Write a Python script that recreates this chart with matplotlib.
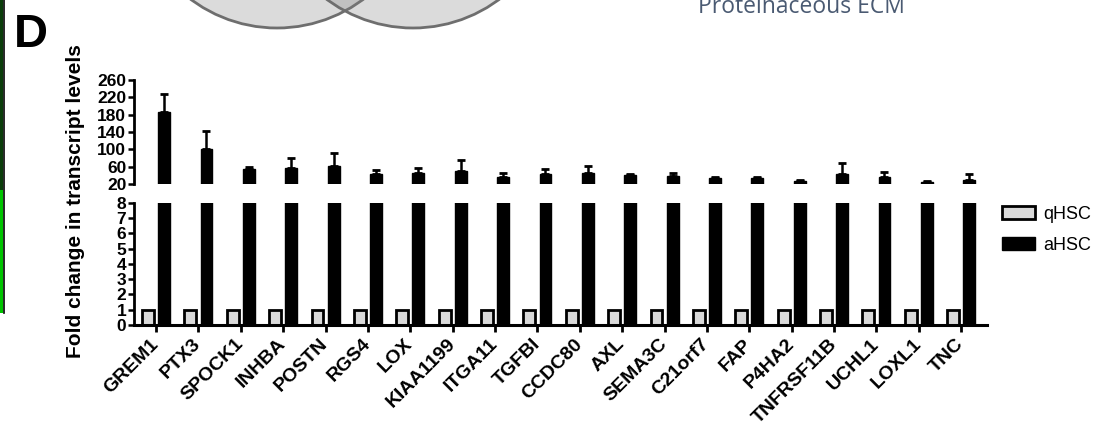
import numpy as np
import matplotlib
matplotlib.use('Agg')
import matplotlib.pyplot as plt
from matplotlib.patches import Circle, Rectangle

plt.rcParams['font.family'] = ['Liberation Sans', 'DejaVu Sans']

# gene names and values
genes = ['GREM1', 'PTX3', 'SPOCK1', 'INHBA', 'POSTN', 'RGS4', 'LOX', 'KIAA1199',
         'ITGA11', 'TGFBI', 'CCDC80', 'AXL', 'SEMA3C', 'C21orf7', 'FAP', 'P4HA2',
         'TNFRSF11B', 'UCHL1', 'LOXL1', 'TNC']
qhsc = [1] * 20
ahsc = [185, 100, 55, 57, 62, 42, 45, 50, 37, 42, 45, 40, 38, 35, 35, 27, 43, 37, 25, 29]
ahsc_err = [42, 42, 5, 23, 30, 10, 11, 25, 8, 12, 16, 3, 7, 2, 2, 2, 25, 11, 1, 13]
top_ticks = [20, 60, 100, 140, 180, 220, 260]
bot_ticks = [0, 1, 2, 3, 4, 5, 6, 7, 8]

W, H = 1115, 433
fig = plt.figure(figsize=(W / 100, H / 100), dpi=100)

# pieces of the neighbouring panels that show up in the crop
bg = fig.add_axes([0, 0, 1, 1])
bg.set_xlim(0, W)
bg.set_ylim(H, 0)
bg.axis('off')
for cx in [277, 413]:
    bg.add_patch(Circle((cx, -116), 144, facecolor=(0.5, 0.5, 0.5, 0.28),
                        edgecolor='#6e6e6e', lw=2))
bg.add_patch(Rectangle((0, 0), 3, 190, facecolor='#0b3d0b', edgecolor='none'))
bg.add_patch(Rectangle((0, 190), 3, 123, facecolor='#00c400', edgecolor='none'))
bg.plot([3.5, 3.5], [0, 313], color='black', lw=1.2)
bg.text(698, 13, 'Proteinaceous ECM', fontsize=16.5, color='#4a5a72',
        family='Open Sans', va='baseline', ha='left')
bg.text(14, 47, 'D', fontsize=34, fontweight='bold', va='baseline', ha='left')

x = np.arange(len(genes))
bw = 0.28
off = 0.19

left = 134 / W
width = (987 - 134) / W
ax_top = fig.add_axes([left, 1 - 184 / H, width, (184 - 80) / H])
ax_bot = fig.add_axes([left, 1 - 325 / H, width, (325 - 202.7) / H])

for ax in [ax_top, ax_bot]:
    ax.bar(x - off, qhsc, bw, color='#d9d9d9', edgecolor='black', lw=2, label='qHSC')
    ax.bar(x + off, ahsc, bw, color='black', edgecolor='black', lw=1.0, label='aHSC')
    ax.set_xlim(-0.52, 19.61)
    for s in ['top', 'right']:
        ax.spines[s].set_visible(False)
    ax.spines['left'].set_linewidth(2)
    ax.tick_params(axis='y', length=4.5, width=1.8, pad=1, labelsize=12.5)

ax_top.errorbar(x + off, ahsc, yerr=[[0] * len(x), ahsc_err], fmt='none',
                ecolor='black', elinewidth=1.8, capsize=3.2, capthick=2)
ax_top.set_ylim(20, 260)
ax_top.set_yticks(top_ticks)
ax_top.set_yticklabels([str(t) for t in top_ticks], fontweight='bold')
ax_top.spines['bottom'].set_visible(False)
ax_top.set_xticks([])

ax_bot.set_ylim(0, 8)
ax_bot.set_yticks(bot_ticks)
ax_bot.set_yticklabels([str(t) for t in bot_ticks], fontweight='bold')
ax_bot.spines['bottom'].set_linewidth(2.2)
ax_bot.set_xticks(x)
ax_bot.set_xticklabels(genes, rotation=45, ha='right', va='center',
                       rotation_mode='anchor', fontsize=14, fontweight='bold')
ax_bot.tick_params(axis='x', length=5, width=2, pad=7)

fig.text(76 / W, 1 - 201 / H, 'Fold change in transcript levels', rotation=90,
         fontsize=15, fontweight='bold', ha='center', va='center')

handles, labels = ax_bot.get_legend_handles_labels()
fig.legend(handles, labels, loc='upper left', bbox_to_anchor=(1002 / W, 1 - 206 / H),
           frameon=False, fontsize=13, handlelength=1.85, handleheight=0.7,
           handletextpad=0.45, labelspacing=0.75, borderpad=0, borderaxespad=0)

fig.savefig('out.png', dpi=100)
